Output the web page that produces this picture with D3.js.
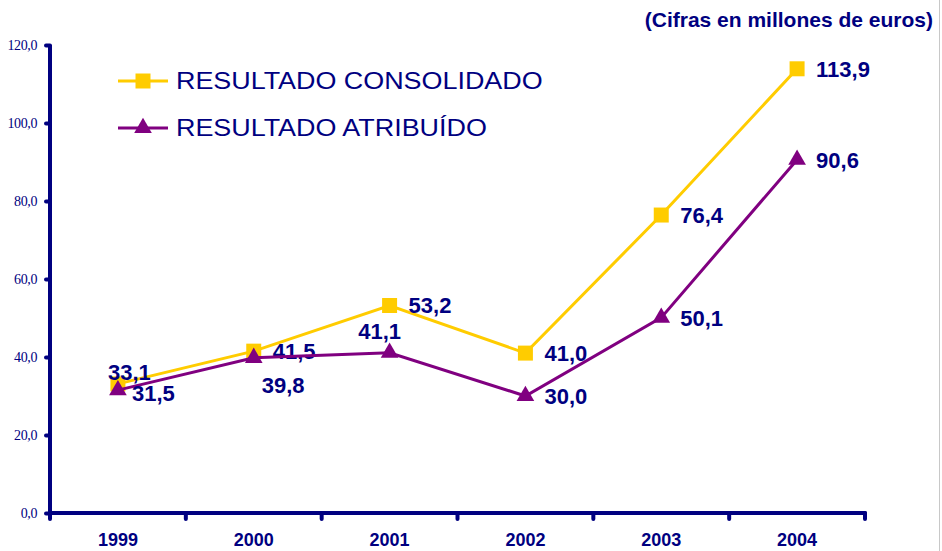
<!DOCTYPE html>
<html>
<head>
<meta charset="utf-8">
<script src="https://cdn.jsdelivr.net/npm/d3@7"></script>
<style>
  body { margin: 0; background: #fff; }
  svg { display: block; }
</style>
</head>
<body>
<svg id="chart" width="942" height="551"></svg>
<script>
const years = ["1999", "2000", "2001", "2002", "2003", "2004"];
const consolidado = [33.1, 41.5, 53.2, 41.0, 76.4, 113.9];
const atribuido = [31.5, 39.8, 41.1, 30.0, 50.1, 90.6];
const yTicks = [0, 20, 40, 60, 80, 100, 120];
const seriesNames = ["RESULTADO CONSOLIDADO", "RESULTADO ATRIBUÍDO"];
// where each value label sits next to its point
const consolidadoLabelPos = ["ul", "r", "r", "r", "r", "r"];
const atribuidoLabelPos = ["rn", "br", "a", "r", "r", "r"];

const navy = "#000080";
const gold = "#FFCC00";
const purple = "#800080";
const fmt = (v) => v.toFixed(1).replace(".", ",");

const svg = d3.select("#chart");

const x = d3.scaleBand().domain(years).range([50, 865]);
const y = d3.scaleLinear().domain([0, 120]).range([513, 45]);

// right border line
svg.append("line")
  .attr("x1", 939.5).attr("x2", 939.5).attr("y1", 0).attr("y2", 551)
  .attr("stroke", "#c8c8c8").attr("stroke-width", 1);

// title
svg.append("text")
  .attr("x", 933).attr("y", 27)
  .attr("text-anchor", "end")
  .attr("font-family", "Arial, 'Liberation Sans', sans-serif")
  .attr("font-weight", "bold")
  .attr("font-size", 21)
  .attr("fill", navy)
  .text("(Cifras en millones de euros)");

// y axis
const yAxis = svg.append("g")
  .attr("transform", "translate(50,0)")
  .call(d3.axisLeft(y).tickValues(yTicks).tickSize(5).tickPadding(8).tickFormat(fmt));
yAxis.select(".domain")
  .attr("stroke", navy).attr("stroke-width", 4)
  .attr("d", "M0," + y(120) + "V" + y(0));
yAxis.selectAll(".tick line").attr("stroke", navy).attr("stroke-width", 4).attr("stroke-linecap", "round").attr("x2", -4);
yAxis.selectAll(".tick text")
  .attr("fill", navy)
  .attr("font-family", "'Times New Roman', 'Liberation Serif', serif")
  .attr("font-size", 14)
  .attr("letter-spacing", -0.4);

// x axis
const xAxisG = svg.append("g").attr("transform", "translate(0," + y(0) + ")");
xAxisG.append("line")
  .attr("x1", 50).attr("x2", 865)
  .attr("stroke", navy).attr("stroke-width", 4).attr("stroke-linecap", "round");
const boundaries = years.map((d) => x(d)).concat([x.range()[1]]);
xAxisG.selectAll(".xtick")
  .data(boundaries)
  .enter()
  .append("line")
  .attr("x1", (d) => d).attr("x2", (d) => d)
  .attr("y1", 0).attr("y2", 6)
  .attr("stroke", navy).attr("stroke-width", 4).attr("stroke-linecap", "round");
xAxisG.selectAll(".xlabel")
  .data(years)
  .enter()
  .append("text")
  .attr("x", (d) => x(d) + x.bandwidth() / 2)
  .attr("y", 33)
  .attr("text-anchor", "middle")
  .attr("font-family", "Arial, 'Liberation Sans', sans-serif")
  .attr("font-weight", "bold")
  .attr("font-size", 18)
  .attr("fill", navy)
  .text((d) => d);

const cx = (i) => x(years[i]) + x.bandwidth() / 2;

const line = d3.line()
  .x((d, i) => cx(i))
  .y((d) => y(d));

const square = d3.symbol().type(d3.symbolSquare).size(225);
const triangle = d3.symbol().type(d3.symbolTriangle).size(135);

const labelDx = { r: 19, rn: 14, ul: -10, a: -10, br: 8 };
const labelDy = { r: 0, rn: 3, ul: -12, a: -22, br: 27 };

const drawSeries = (values, color, symbol, labelPos) => {
  svg.append("path")
    .datum(values)
    .attr("d", line)
    .attr("fill", "none")
    .attr("stroke", color)
    .attr("stroke-width", 3);

  svg.selectAll(null)
    .data(values)
    .enter()
    .append("path")
    .attr("d", symbol)
    .attr("transform", (d, i) => "translate(" + cx(i) + "," + y(d) + ")")
    .attr("fill", color);

  svg.selectAll(null)
    .data(values)
    .enter()
    .append("text")
    .attr("x", (d, i) => cx(i) + labelDx[labelPos[i]])
    .attr("y", (d, i) => y(d) + labelDy[labelPos[i]])
    .attr("text-anchor", (d, i) => (labelPos[i] === "a" ? "middle" : "start"))
    .attr("dy", "0.36em")
    .attr("font-family", "Arial, 'Liberation Sans', sans-serif")
    .attr("font-weight", "bold")
    .attr("font-size", 22)
    .attr("fill", navy)
    .text(fmt);
};

drawSeries(consolidado, gold, square, consolidadoLabelPos);
drawSeries(atribuido, purple, triangle, atribuidoLabelPos);

// legend
const legend = svg.append("g");
const legendItems = [
  { name: seriesNames[0], color: gold, symbol: square },
  { name: seriesNames[1], color: purple, symbol: triangle },
];
legendItems.forEach((item, i) => {
  const ly = 81 + i * 47;
  legend.append("line")
    .attr("x1", 118).attr("x2", 168).attr("y1", ly).attr("y2", ly)
    .attr("stroke", item.color).attr("stroke-width", 3);
  legend.append("path")
    .attr("d", item.symbol)
    .attr("transform", "translate(143," + ly + ")")
    .attr("fill", item.color);
  legend.append("text")
    .attr("transform", "translate(176," + ly + ") scale(1.17,1)")
    .attr("dy", "0.36em")
    .attr("font-family", "Arial, 'Liberation Sans', sans-serif")
    .attr("font-size", 23)
    .attr("fill", navy)
    .text(item.name);
});
</script>
</body>
</html>
